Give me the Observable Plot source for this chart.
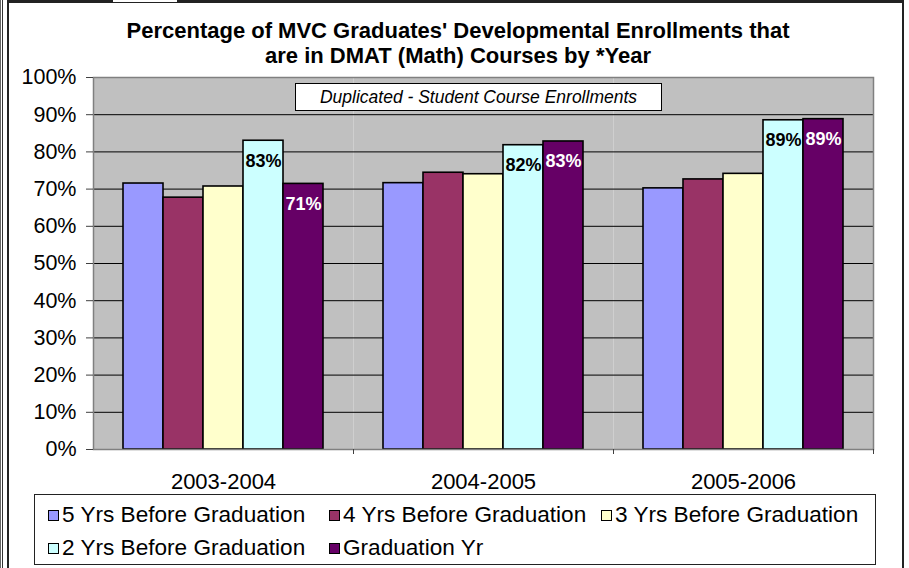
<!DOCTYPE html>
<html>
<head>
<meta charset="utf-8">
<script src="https://cdn.jsdelivr.net/npm/d3@7"></script>
<script src="https://cdn.jsdelivr.net/npm/@observablehq/plot@0.6"></script>
<style>
  body { margin: 0; background: #fff; }
  #wrap { position: relative; width: 909px; height: 568px; overflow: hidden; font-family: "Liberation Sans", Arial, sans-serif; color: #000; }
  .ln { position: absolute; background: #222; }
  #title { position: absolute; left: 9px; width: 898px; top: 18px; text-align: center; font-weight: bold; font-size: 22px; line-height: 25px; }
  #sub { position: absolute; left: 295px; top: 83px; width: 365px; height: 26px; border: 1.5px solid #000; background: #fff; font-style: italic; font-size: 17.5px; line-height: 26px; text-align: center; z-index: 2; }
  #legend { position: absolute; left: 34px; top: 494px; width: 840px; height: 69px; border: 1px solid #222; background: #fff; font-size: 22.6px; }
  .item { position: absolute; display: flex; align-items: center; white-space: nowrap; height: 26px; }
  .sw { width: 9px; height: 9px; border: 1px solid #000; margin-right: 3px; }
  #chart { position: absolute; left: 0; top: 0; }
</style>
</head>
<body>
<div id="wrap">
  <div class="ln" style="left:0;top:0;width:1px;height:568px;background:#666"></div>
  <div class="ln" style="left:2px;top:0;width:1px;height:568px;background:#333"></div>
  <div class="ln" style="left:7px;top:0;width:2px;height:568px"></div>
  <div class="ln" style="left:9px;top:0;width:894px;height:3px"></div>
  <div class="ln" style="left:112px;top:0;width:1px;height:3px"></div>
  <div class="ln" style="left:113px;top:0;width:64px;height:2px;background:#fff"></div>
  <div class="ln" style="left:902px;top:0;width:2px;height:568px"></div>
  <div id="chart"></div>
  <div id="title">Percentage of MVC Graduates' Developmental Enrollments that<br>are in DMAT (Math) Courses by *Year</div>
  <div id="sub">Duplicated - Student Course Enrollments</div>
  <div id="legend"></div>
</div>
<script>
const years = ["2003-2004", "2004-2005", "2005-2006"];
const series = ["5 Yrs Before Graduation", "4 Yrs Before Graduation", "3 Yrs Before Graduation", "2 Yrs Before Graduation", "Graduation Yr"];
const colors = ["#9999FF", "#993366", "#FFFFCC", "#CCFFFF", "#660066"];
const yrs5 = [71.5, 71.6, 70.2];
const yrs4 = [67.7, 74.4, 72.6];
const yrs3 = [70.7, 74.0, 74.1];
const yrs2 = [83.0, 81.8, 88.5];
const gradYr = [71.4, 82.8, 88.8];
const yTicks = [0, 10, 20, 30, 40, 50, 60, 70, 80, 90, 100];
const labeledSeries = ["2 Yrs Before Graduation", "Graduation Yr"];
const legendRows = [[0, 1, 2], [3, 4]];

const seriesValues = [yrs5, yrs4, yrs3, yrs2, gradYr];
const data = [];
years.forEach((year, i) => series.forEach((s, j) => data.push({year, series: s, value: seriesValues[j][i]})));

const W = 909, H = 500, ML = 93, MR = 36, MT = 77, MB = 51;
const halfBand = (W - ML - MR) / years.length / 2;
const font = '"Liberation Sans", Arial, sans-serif';

const chart = Plot.plot({
  width: W, height: H,
  marginTop: MT, marginBottom: MB, marginLeft: ML, marginRight: MR,
  style: {fontFamily: font, background: "transparent", color: "#000", overflow: "visible"},
  fx: {domain: years, padding: 0, label: null},
  x: {domain: series, paddingInner: 0, paddingOuter: 0.75, axis: null},
  y: {domain: [0, 100], label: null},
  color: {domain: series, range: colors},
  marks: [
    Plot.frame({fill: "#C0C0C0", stroke: "none"}),
    Plot.gridY(yTicks, {stroke: "#000", strokeOpacity: 1, strokeWidth: 1}),
    Plot.barY(data, {fx: "year", x: "series", y: "value", fill: "series", stroke: "#000", strokeWidth: 1.6}),
    Plot.text(data.filter(d => d.series === labeledSeries[0]), {fx: "year", x: "series", y: "value", text: d => Math.round(d.value) + "%", dy: 20, fill: "#000", fontWeight: "bold", fontSize: 18}),
    Plot.text(data.filter(d => d.series === labeledSeries[1]), {fx: "year", x: "series", y: "value", text: d => Math.round(d.value) + "%", dy: 20, fill: "#fff", fontWeight: "bold", fontSize: 18}),
    Plot.frame({facet: "super", stroke: "#808080", strokeWidth: 1.5}),
    Plot.axisY(yTicks, {tickFormat: d => d + "%", tickSize: 7, tickPadding: 10, fontSize: 21.5, stroke: "#404040", label: null}),
    Plot.axisFx({anchor: "bottom", tickSize: 0, tickPadding: 24, fontSize: 22, label: null}),
    Plot.axisFx({anchor: "bottom", tickSize: 5, tickFormat: () => "", dx: halfBand, stroke: "#404040", label: null})
  ]
});
document.getElementById("chart").appendChild(chart);

const legend = document.getElementById("legend");
const colX = [13, 294, 566];
const rowY = [7, 40];
legendRows.forEach((row, r) => row.forEach((j, c) => {
  const it = document.createElement("div");
  it.className = "item";
  it.style.left = colX[c] + "px";
  it.style.top = rowY[r] + "px";
  const sw = document.createElement("div");
  sw.className = "sw";
  sw.style.background = colors[j];
  const tx = document.createElement("span");
  tx.textContent = series[j];
  it.appendChild(sw); it.appendChild(tx);
  legend.appendChild(it);
}));
</script>
</body>
</html>
